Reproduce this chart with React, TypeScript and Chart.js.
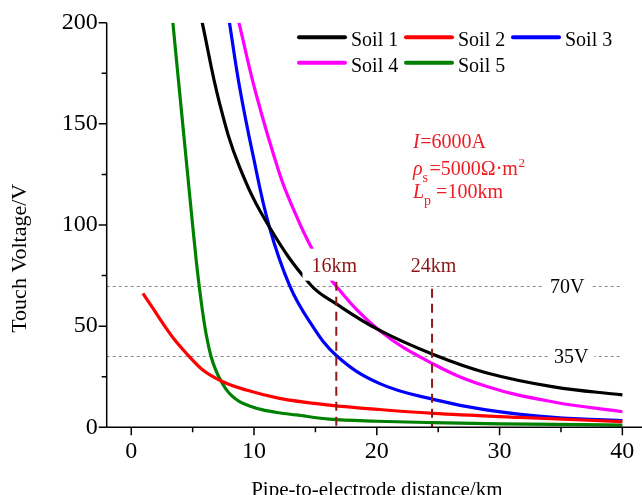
import React, { useEffect, useRef } from 'react';
import { Chart, registerables } from 'chart.js';

Chart.register(...registerables);

// ---- data ----
const soil1X = [5.78, 7.2, 8.8, 11.25, 14.6, 16.7, 20.2, 24.6, 28.9, 34.4, 40];
const soil1Y = [200, 160, 129, 99, 70.5, 61, 48, 36, 27, 20, 16];

const soil2X = [0.95, 1.8, 2.57, 3.5, 4.48, 5.83, 7.46, 9.37, 12.08, 16.15, 20.2, 24.6, 31.6, 40];
const soil2Y = [66.2, 58.5, 51.4, 43.5, 36.6, 28.3, 22.5, 18.4, 14.3, 11.0, 8.8, 6.9, 4.9, 2.8];

const soil3X = [8.0, 8.8, 9.9, 11.25, 12.9, 14.5, 16.7, 20.2, 24.6, 28.9, 34.4, 40];
const soil3Y = [200, 169, 135, 99, 70, 52.5, 35.5, 21.7, 13.8, 8.6, 4.9, 3.3];

const soil4X = [8.77, 10.2, 12.1, 13.2, 14.66, 16.4, 20.2, 24.6, 28.9, 34.4, 40];
const soil4Y = [200, 164, 125, 108, 89, 72, 48, 31.3, 20.3, 12.5, 7.7];

const soil5X = [3.39, 3.9, 4.4, 4.9, 5.3, 5.7, 6.1, 6.5, 6.9, 7.3, 7.7, 8.2, 8.82, 9.7, 10.72, 12.0, 13.44, 16.15, 20.0, 24.57, 30, 40];
const soil5Y = [200, 168, 137, 106, 82, 62, 46, 35, 28, 23, 19, 15.5, 12.7, 10.4, 8.6, 7.2, 6.1, 4.0, 3.0, 2.3, 1.7, 1.1];

const seriesNames = ['Soil 1', 'Soil 2', 'Soil 3', 'Soil 4', 'Soil 5'];
const seriesColors = ['#000000', '#ff0000', '#0000ff', '#ff00ff', '#008000'];
const seriesX = [soil1X, soil2X, soil3X, soil4X, soil5X];
const seriesY = [soil1Y, soil2Y, soil3Y, soil4Y, soil5Y];
const seriesMonotone = [false, true, false, false, true];

const xMajorTicks = [0, 10, 20, 30, 40];
const xMinorTicks = [5, 15, 25, 35];
const yMajorTicks = [0, 50, 100, 150, 200];
const yMinorTicks = [25, 75, 125, 175];

const limitValues = [70, 35];
const limitLabels = ['70V', '35V'];
const distanceMarks = [16.7, 24.5];
const distanceLabels = ['16km', '24km'];

const xTitle = 'Pipe-to-electrode distance/km';
const yTitle = 'Touch Voltage/V';

const SERIF = '"Liberation Serif", "Times New Roman", serif';

type Run = { text: string; italic?: boolean; size: number; dy?: number; gap?: number };

const paramLines: Run[][] = [
  [
    { text: 'I', italic: true, size: 20, gap: 0.5 },
    { text: '=6000A', size: 20 },
  ],
  [
    { text: 'ρ', italic: true, size: 20 },
    { text: 's', size: 14, dy: 7, gap: 1.5 },
    { text: '=5000Ω·m', size: 20, gap: 0.5 },
    { text: '2', size: 13, dy: -8 },
  ],
  [
    { text: 'L', italic: true, size: 20 },
    { text: 'p', size: 14, dy: 7, gap: 5 },
    { text: '=100km', size: 20 },
  ],
];

function drawRuns(ctx: CanvasRenderingContext2D, x: number, baseline: number, runs: Run[]) {
  let cx = x;
  for (const r of runs) {
    ctx.font = `${r.italic ? 'italic ' : ''}${r.size}px ${SERIF}`;
    ctx.fillText(r.text, cx, baseline + (r.dy || 0));
    cx += ctx.measureText(r.text).width + (r.gap || 0);
  }
}

const decorPlugin = {
  id: 'decor',
  beforeDatasetsDraw(chart: any) {
    const { ctx, scales } = chart;
    const xs = scales.x;
    const ys = scales.y;
    ctx.save();
    ctx.strokeStyle = '#8a8a8a';
    ctx.lineWidth = 1;
    ctx.setLineDash([3, 3]);
    for (const v of limitValues) {
      const py = Math.round(ys.getPixelForValue(v)) + 0.5;
      ctx.beginPath();
      ctx.moveTo(chart.chartArea.left, py);
      ctx.lineTo(xs.getPixelForValue(40), py);
      ctx.stroke();
    }
    ctx.restore();
  },
  afterDatasetsDraw(chart: any) {
    const { ctx, scales, chartArea } = chart;
    const xs = scales.x;
    const ys = scales.y;
    ctx.save();

    // vertical dashed markers
    ctx.strokeStyle = '#8b1a1a';
    ctx.lineWidth = 2;
    ctx.setLineDash([9, 6]);
    distanceMarks.forEach((d, i) => {
      const px = xs.getPixelForValue(d);
      ctx.beginPath();
      ctx.moveTo(px, ys.getPixelForValue(i === 0 ? 72 : 68.5));
      ctx.lineTo(px, ys.getPixelForValue(0));
      ctx.stroke();
    });
    ctx.setLineDash([]);

    // distance labels with white boxes
    ctx.font = `20px ${SERIF}`;
    ctx.textBaseline = 'alphabetic';
    const y70 = ys.getPixelForValue(70);
    distanceMarks.forEach((d, i) => {
      const px = xs.getPixelForValue(d) + (i === 0 ? -2 : 1.5);
      const w = ctx.measureText(distanceLabels[i]).width;
      const base = y70 - 14;
      ctx.fillStyle = '#ffffff';
      ctx.fillRect(px - w / 2 - 9, base - 23, w + 18, 32);
      ctx.fillStyle = '#8b1414';
      ctx.fillText(distanceLabels[i], px - w / 2, base);
    });

    // limit labels
    const limitLeft = [550, 554];
    limitValues.forEach((v, i) => {
      const py = ys.getPixelForValue(v);
      const w = ctx.measureText(limitLabels[i]).width;
      ctx.fillStyle = '#ffffff';
      ctx.fillRect(limitLeft[i] - 6, py - 14, w + 12, 30);
      ctx.fillStyle = '#000000';
      ctx.fillText(limitLabels[i], limitLeft[i], py + 7);
    });

    // parameter text
    ctx.fillStyle = '#ee1c24';
    const paramBase = [148.3, 175, 198.3];
    paramLines.forEach((runs, i) => drawRuns(ctx, 413, paramBase[i], runs));

    // legend
    const legendLineX = [298, 405, 512];
    const legendRowY = [37.3, 62.7];
    seriesNames.forEach((name, i) => {
      const row = Math.floor(i / 3);
      const col = i % 3;
      const lx = legendLineX[col];
      const ly = legendRowY[row];
      ctx.strokeStyle = seriesColors[i];
      ctx.lineWidth = 4;
      ctx.lineCap = 'round';
      ctx.beginPath();
      ctx.moveTo(lx + 1, ly);
      ctx.lineTo(lx + 47, ly);
      ctx.stroke();
      ctx.fillStyle = '#000000';
      ctx.font = `20px ${SERIF}`;
      ctx.fillText(name, lx + 53, ly + 9);
    });
    ctx.lineCap = 'butt';

    // axes lines
    ctx.strokeStyle = '#000000';
    ctx.lineWidth = 1.5;
    ctx.beginPath();
    ctx.moveTo(chartArea.left, chartArea.top);
    ctx.lineTo(chartArea.left, chartArea.bottom);
    ctx.moveTo(chartArea.left, chartArea.bottom);
    ctx.lineTo(chart.width, chartArea.bottom);
    ctx.stroke();

    // tick marks
    ctx.beginPath();
    for (const v of yMajorTicks) {
      const py = ys.getPixelForValue(v);
      ctx.moveTo(chartArea.left, py);
      ctx.lineTo(chartArea.left - 8, py);
    }
    for (const v of yMinorTicks) {
      const py = ys.getPixelForValue(v);
      ctx.moveTo(chartArea.left, py);
      ctx.lineTo(chartArea.left - 5, py);
    }
    for (const v of xMajorTicks) {
      const px = xs.getPixelForValue(v);
      ctx.moveTo(px, chartArea.bottom);
      ctx.lineTo(px, chartArea.bottom + 8);
    }
    for (const v of xMinorTicks) {
      const px = xs.getPixelForValue(v);
      ctx.moveTo(px, chartArea.bottom);
      ctx.lineTo(px, chartArea.bottom + 5);
    }
    ctx.stroke();

    // axis titles
    ctx.fillStyle = '#000000';
    ctx.font = `21px ${SERIF}`;
    ctx.textAlign = 'center';
    ctx.fillText(xTitle, xs.getPixelForValue(20), 496);
    ctx.save();
    ctx.translate(26, 258.3);
    ctx.rotate(-Math.PI / 2);
    ctx.font = `22px ${SERIF}`;
    ctx.fillText(yTitle, 0, 0);
    ctx.restore();

    ctx.restore();
  },
};

export default function App() {
  const canvasRef = useRef<HTMLCanvasElement | null>(null);

  useEffect(() => {
    document.body.style.margin = '0';
    const canvas = canvasRef.current;
    if (!canvas) return;
    const datasets = seriesNames.map((name, i) => ({
      label: name,
      data: seriesX[i].map((x, j) => ({ x, y: seriesY[i][j] })),
      borderColor: seriesColors[i],
      backgroundColor: seriesColors[i],
      borderWidth: 3.2,
      pointRadius: 0,
      fill: false,
      tension: 0.4,
      cubicInterpolationMode: seriesMonotone[i] ? ('monotone' as const) : ('default' as const),
    }));
    const tickFont = { family: SERIF, size: 24 };
    const chart = new Chart(canvas, {
      type: 'line',
      data: { datasets },
      options: {
        animation: false,
        responsive: false,
        maintainAspectRatio: false,
        layout: { padding: { left: 0, right: 0, top: 22.7, bottom: 0 } },
        plugins: { legend: { display: false }, tooltip: { enabled: false } },
        scales: {
          x: {
            type: 'linear',
            min: -2,
            max: 41.6,
            grid: { display: false, drawTicks: true, tickLength: 8 },
            border: { display: false },
            ticks: { font: tickFont, color: '#000', padding: 2, autoSkip: false, maxRotation: 0 },
            afterBuildTicks: (s: any) => {
              s.ticks = xMajorTicks.map((v) => ({ value: v }));
            },
            afterFit: (s: any) => {
              s.height = 67.7;
            },
          },
          y: {
            type: 'linear',
            min: 0,
            max: 200,
            grid: { display: false, drawTicks: true, tickLength: 8 },
            border: { display: false },
            ticks: { font: tickFont, color: '#000', padding: 1, autoSkip: false },
            afterBuildTicks: (s: any) => {
              s.ticks = yMajorTicks.map((v) => ({ value: v }));
            },
            afterFit: (s: any) => {
              s.width = 106.7;
            },
          },
        },
      },
      plugins: [decorPlugin],
    });
    return () => chart.destroy();
  }, []);

  return <canvas ref={canvasRef} width={642} height={495} style={{ display: 'block' }} />;
}
